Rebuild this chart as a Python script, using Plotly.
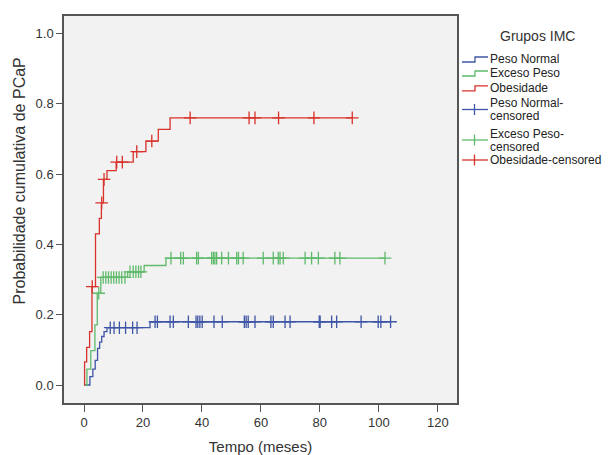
import numpy as np
import plotly.graph_objects as go

# ---- data ----
groups = ["Peso Normal", "Exceso Peso", "Obesidade"]

normal_times = [2.0, 3.0, 3.8, 4.6, 5.3, 6.0, 6.8, 7.8, 22.4]
normal_values = [0.024, 0.045, 0.070, 0.104, 0.122, 0.138, 0.152, 0.163, 0.180]
normal_censored = [8.9, 10.2, 12.0, 14.1, 16.5, 18.0, 24.1, 24.9, 29.2, 30.3, 35.4,
                   38.0, 38.6, 39.3, 40.1, 44.1, 46.9, 54.4, 55.0, 55.7, 58.0,
                   63.4, 64.2, 68.2, 69.9, 79.8, 80.1, 84.0, 85.7, 94.0, 99.8,
                   100.7, 104.0]
normal_end = 104.0

excess_times = [1.0, 2.3, 3.7, 4.5, 5.7, 14.8, 20.4, 27.8]
excess_values = [0.045, 0.098, 0.171, 0.261, 0.306, 0.322, 0.340, 0.361]
excess_censored = [5.0, 6.5, 7.4, 8.3, 9.2, 10.1, 11.0, 11.9, 12.8, 13.9,
                   15.6, 16.7, 17.6, 18.5, 19.3,
                   29.5, 32.8, 33.7, 38.2, 38.8, 43.3, 43.9, 44.4, 45.0, 46.7,
                   49.0, 51.8, 52.4, 54.0, 60.8, 64.2, 65.9, 66.5, 67.6, 75.0,
                   77.2, 79.5, 85.1, 86.8, 102.1]
excess_end = 102.1

obese_times = [0.2, 0.9, 1.9, 2.7, 3.9, 5.2, 5.9, 6.6, 7.8, 10.9, 16.7, 21.0, 25.2, 29.2]
obese_values = [0.066, 0.107, 0.152, 0.280, 0.430, 0.474, 0.518, 0.585, 0.610,
                0.634, 0.664, 0.694, 0.727, 0.760]
obese_censored = [2.8, 6.0, 6.8, 11.1, 13.0, 17.9, 23.0, 36.0, 56.0, 58.0, 66.0, 78.0, 91.0]
obese_end = 91.0

x_ticks = [0, 20, 40, 60, 80, 100, 120]
y_ticks = [0.0, 0.2, 0.4, 0.6, 0.8, 1.0]

colors = ["#3f55a5", "#5fba6b", "#d8322b"]

series = [
    (normal_times, normal_values, normal_censored, normal_end),
    (excess_times, excess_values, excess_censored, excess_end),
    (obese_times, obese_values, obese_censored, obese_end),
]

FONT = "Liberation Sans, Arial, sans-serif"
fig = go.Figure()

for (times, values, cens, end), col, name in zip(series, colors, groups):
    xs = [0.0] + list(times) + [end]
    ys = [0.0] + list(values) + [values[-1]]
    fig.add_trace(go.Scatter(x=xs, y=ys, mode="lines", line=dict(color=col, width=1.3, shape="hv"),
                             name=name, showlegend=False, hoverinfo="skip"))
    t = np.asarray(times)
    v = np.asarray(values)
    idx = np.searchsorted(t, np.asarray(cens), side="right") - 1
    cy = np.where(idx >= 0, v[np.clip(idx, 0, None)], 0.0)
    fig.add_trace(go.Scatter(x=cens, y=cy, mode="markers",
                             marker=dict(symbol="cross-thin", size=9, color=col,
                                         line=dict(color=col, width=1.3)),
                             name=name + "-censored", showlegend=False, hoverinfo="skip"))

# ---- layout (page body has an 8px margin, so the figure is offset by 8px) ----
OFF = 8
W, H = 610 - OFF, 455 - OFF
ML, MT = 64 - OFF, 16 - OFF
MR = W - (457 - OFF)
MB = H - (403 - OFF)
PW, PH = W - ML - MR, H - MT - MB

def fx(px):
    return (px - OFF - ML) / PW

def fy(py):
    return (H - MB - (py - OFF)) / PH

shapes = []
annotations = []
LEG = 12

# y-axis title (placed as in the reference, slightly above the axis centre)
annotations.append(dict(x=fx(19), y=fy(181.5), xref="paper", yref="paper",
                        text="Probabilidade cumulativa de PCaP", textangle=-90,
                        showarrow=False, xanchor="center", yanchor="middle",
                        font=dict(family=FONT, size=16, color="#333")))

annotations.append(dict(x=fx(537), y=fy(36), xref="paper", yref="paper", text="Grupos IMC",
                        showarrow=False, xanchor="center", yanchor="middle",
                        font=dict(family=FONT, size=14, color="#333")))

step_entries = [("Peso Normal", 59.5, colors[0]), ("Exceso Peso", 73.5, colors[1]),
                ("Obesidade", 88.3, colors[2])]
for label, cy_, col in step_entries:
    path = "M {} {} L {} {} L {} {} L {} {}".format(
        fx(462), fy(cy_ + 2.5), fx(475), fy(cy_ + 2.5), fx(475), fy(cy_ - 2.5), fx(488), fy(cy_ - 2.5))
    shapes.append(dict(type="path", xref="paper", yref="paper", path=path,
                       line=dict(color=col, width=1.3)))
    annotations.append(dict(x=fx(488), y=fy(cy_), xref="paper", yref="paper", text=label,
                            showarrow=False, xanchor="left", yanchor="middle",
                            font=dict(family=FONT, size=LEG, color="#222")))

cens_entries = [(["Peso Normal-", "censored"], [102.5, 116.0], 109.5, colors[0]),
                (["Exceso Peso-", "censored"], [133.5, 146.7], 140.0, colors[1]),
                (["Obesidade-censored"], [160.0], 160.0, colors[2])]
for lines, ys_, cy_, col in cens_entries:
    shapes.append(dict(type="line", xref="paper", yref="paper", x0=fx(462), x1=fx(488),
                       y0=fy(cy_), y1=fy(cy_), line=dict(color=col, width=1.3)))
    shapes.append(dict(type="line", xref="paper", yref="paper", x0=fx(474.5), x1=fx(474.5),
                       y0=fy(cy_ - 5.5), y1=fy(cy_ + 5.5), line=dict(color=col, width=1.3)))
    for txt, yy in zip(lines, ys_):
        annotations.append(dict(x=fx(488), y=fy(yy), xref="paper", yref="paper", text=txt,
                                showarrow=False, xanchor="left", yanchor="middle",
                                font=dict(family=FONT, size=LEG, color="#222")))

px_per_month = 2.948
x0_px = 84
y0_px = 385
px_per_unit = 351.5

fig.update_layout(
    width=W, height=H,
    margin=dict(l=ML, r=MR, t=MT, b=MB, autoexpand=False),
    paper_bgcolor="white",
    plot_bgcolor="#f2f2f2",
    showlegend=False,
    shapes=shapes,
    annotations=annotations,
    font=dict(family=FONT, size=13, color="#333"),
    xaxis=dict(
        range=[(64 - x0_px) / px_per_month, (457 - x0_px) / px_per_month],
        tickvals=x_ticks, ticks="outside", ticklen=7, tickwidth=1.3, tickcolor="#555",
        showgrid=False, zeroline=False, showline=True, mirror=True, automargin=False,
        linecolor="#555", linewidth=1.5,
        tickfont=dict(family=FONT, size=13, color="#333"),
        title=dict(text="Tempo (meses)", font=dict(family=FONT, size=15, color="#333"), standoff=12),
    ),
    yaxis=dict(
        range=[-(403 - y0_px) / px_per_unit, (y0_px - 16) / px_per_unit],
        tickvals=y_ticks, tickformat=".1f", ticks="outside", ticklen=6, tickwidth=1.3, tickcolor="#555",
        showgrid=False, zeroline=False, showline=True, mirror=True, automargin=False,
        linecolor="#555", linewidth=1.5,
        tickfont=dict(family=FONT, size=13, color="#333"),
    ),
)

fig.write_html("out.html")
